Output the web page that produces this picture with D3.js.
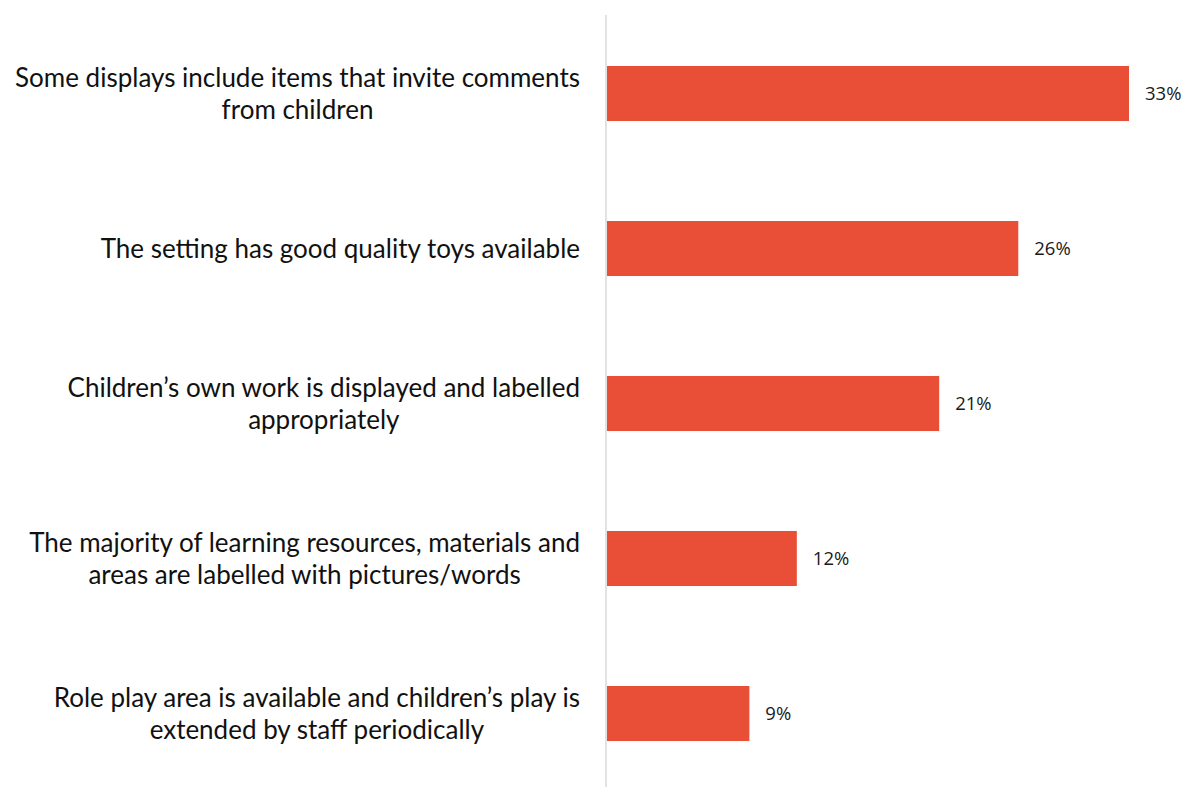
<!DOCTYPE html>
<html>
<head>
<meta charset="utf-8">
<script src="https://cdn.jsdelivr.net/npm/d3@7"></script>
<style>
  html, body { margin: 0; padding: 0; background: #ffffff; }
  svg { display: block; }
</style>
</head>
<body>
<svg id="chart" width="1190" height="787"></svg>
<script>
// Survey items (each label split into its displayed lines) and their shares in percent
const categories = [
  ["Some displays include items that invite comments", "from children"],
  ["The setting has good quality toys available"],
  ["Children\u2019s own work is displayed and labelled", "appropriately"],
  ["The majority of learning resources, materials and", "areas are labelled with pictures/words"],
  ["Role play area is available and children\u2019s play is", "extended by staff periodically"]
];
const values = [33, 26, 21, 12, 9];
const valueLabels = ["33%", "26%", "21%", "12%", "9%"];

const svg = d3.select("#chart");
const axisX = 607;
const labelRight = 580;

const x = d3.scaleLinear().domain([0, 33]).range([axisX, 1129]);
const y = d3.scaleBand()
  .domain(d3.range(values.length))
  .range([16, 791])
  .paddingInner(0.645)
  .paddingOuter(0.3225);

// bars
svg.append("g").selectAll("rect")
  .data(values)
  .join("rect")
  .attr("x", x(0))
  .attr("y", (d, i) => y(i))
  .attr("width", d => x(d) - x(0))
  .attr("height", y.bandwidth())
  .attr("fill", "#e94e36");

// vertical category axis line
svg.append("line")
  .attr("x1", axisX - 1).attr("x2", axisX - 1)
  .attr("y1", 15).attr("y2", 787)
  .attr("stroke", "#d9d9d9")
  .attr("stroke-width", 1.5);

// value labels
svg.append("g").selectAll("text")
  .data(values)
  .join("text")
  .attr("x", d => x(d) + 16)
  .attr("y", (d, i) => y(i) + y.bandwidth() / 2)
  .attr("dy", "0.35em")
  .attr("font-family", "'Open Sans', sans-serif")
  .attr("font-size", 18.5)
  .attr("fill", "#1a1a1a")
  .text((d, i) => valueLabels[i]);

// category labels, each line centred on the widest line and right-aligned as a block
const lineH = 32;
const catG = svg.append("g")
  .attr("font-family", "Lato, 'Open Sans', sans-serif")
  .attr("font-size", 26)
  .attr("fill", "#111");

categories.forEach((lines, i) => {
  const cy = y(i) + y.bandwidth() / 2;
  const t = catG.append("text")
    .attr("text-anchor", "middle");
  const spans = lines.map((ln, j) => t.append("tspan")
    .attr("y", cy + (j - (lines.length - 1) / 2) * lineH)
    .attr("dy", "0.35em")
    .text(ln));
  const w = d3.max(spans, s => s.node().getComputedTextLength());
  spans.forEach(s => s.attr("x", labelRight - w / 2));
});
</script>
</body>
</html>
